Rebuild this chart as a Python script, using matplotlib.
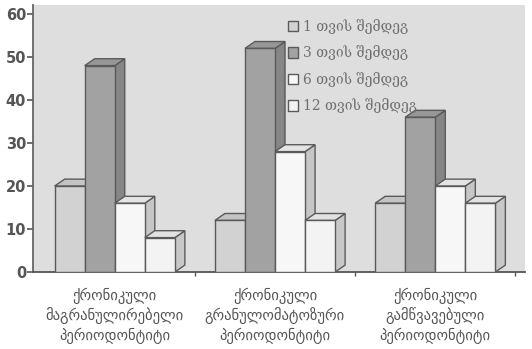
import numpy as np
import matplotlib.pyplot as plt
from matplotlib.patches import Polygon, Rectangle

# ---------------------------------------------------------------------------
# Data
# ---------------------------------------------------------------------------
categories = [
    "ქრონიკული\nმაგრანულირებელი\nპერიოდონტიტი",
    "ქრონიკული\nგრანულომატოზური\nპერიოდონტიტი",
    "ქრონიკული\nგამწვავებული\nპერიოდონტიტი",
]
series_labels = ["1 თვის შემდეგ", "3 თვის შემდეგ", "6 თვის შემდეგ", "12 თვის შემდეგ"]
month_1 = [20, 12, 16]
month_3 = [48, 52, 36]
month_6 = [16, 28, 20]
month_12 = [8, 12, 16]
series = [month_1, month_3, month_6, month_12]

# front / side / top face colours for each series
front_cols = ["#d2d2d2", "#a2a2a2", "#f7f7f7", "#f3f3f3"]
side_cols = ["#b4b4b4", "#868686", "#c6c6c6", "#c8c8c8"]
top_cols = ["#c4c4c4", "#979797", "#e4e4e4", "#e2e2e2"]
edge = "#5a5a5a"

# ---------------------------------------------------------------------------
# Figure
# ---------------------------------------------------------------------------
fig = plt.figure(figsize=(5.32, 3.49), dpi=100)
ax = fig.add_axes([33 / 532, 77 / 349, 492 / 532, 266.6 / 349])
ax.set_facecolor("#dedede")

w = 0.1875               # bar width
ddx, ddy = 0.0625, 1.6   # depth offset of the pseudo-3D boxes
x = np.arange(len(categories))

for k, vals in enumerate(series):
    xs = x + (k - 1.5) * w
    ax.bar(xs, vals, width=w, color=front_cols[k], edgecolor=edge,
           linewidth=1.0, zorder=3 + k)
    for xc, v in zip(xs, vals):
        x0, x1 = xc - w / 2, xc + w / 2
        side = Polygon([(x1, 0), (x1 + ddx, ddy), (x1 + ddx, v + ddy), (x1, v)],
                       closed=True, facecolor=side_cols[k], edgecolor=edge,
                       linewidth=1.0, zorder=2.5 + k)
        top = Polygon([(x0, v), (x0 + ddx, v + ddy), (x1 + ddx, v + ddy), (x1, v)],
                      closed=True, facecolor=top_cols[k], edgecolor=edge,
                      linewidth=1.0, zorder=2.5 + k)
        ax.add_patch(side)
        ax.add_patch(top)

ax.set_xlim(-0.51, 2.56)
ax.set_ylim(0, 62)
ax.set_yticks(range(0, 61, 10))
ax.set_xticks([0.5, 1.5, 2.5])
ax.set_xticklabels([])
ax.tick_params(axis="y", direction="out", length=4, width=1.2, color="#555555",
               labelsize=10.5, labelcolor="#555555", pad=1)
ax.tick_params(axis="x", direction="out", length=3, width=1.0, color="#555555")
for lab in ax.get_yticklabels():
    lab.set_fontweight("bold")

for s in ["top", "right"]:
    ax.spines[s].set_visible(False)
ax.spines["left"].set_color("#666666")
ax.spines["left"].set_linewidth(1.3)
ax.spines["bottom"].set_color("#555555")
ax.spines["bottom"].set_linewidth(1.3)

# category labels under each group, one line at a time
line_y = [296, 316, 336]
for xc, lab in zip(x, categories):
    xf = ax.transData.transform((xc, 0))[0] / fig.bbox.width
    for yp, line in zip(line_y, lab.split("\n")):
        fig.text(xf, 1 - yp / 349, line, ha="center", va="center", fontsize=10.5,
                 color="#555555", family=["DejaVu Sans"])

# legend
handles = [Rectangle((0, 0), 1, 1, facecolor=front_cols[k], edgecolor=edge,
                     linewidth=1.0) for k in range(4)]
leg = ax.legend(handles, series_labels, loc="upper left",
                bbox_to_anchor=(288 / 532, 1 - 19 / 349), bbox_transform=fig.transFigure,
                frameon=False, handlelength=0.75, handleheight=0.8,
                handletextpad=0.3, labelspacing=0.84, borderpad=0, borderaxespad=0,
                prop={"family": ["DejaVu Serif", "DejaVu Sans"], "size": 10})
for t in leg.get_texts():
    t.set_color("#707070")

fig.savefig("out.png", dpi=100)
